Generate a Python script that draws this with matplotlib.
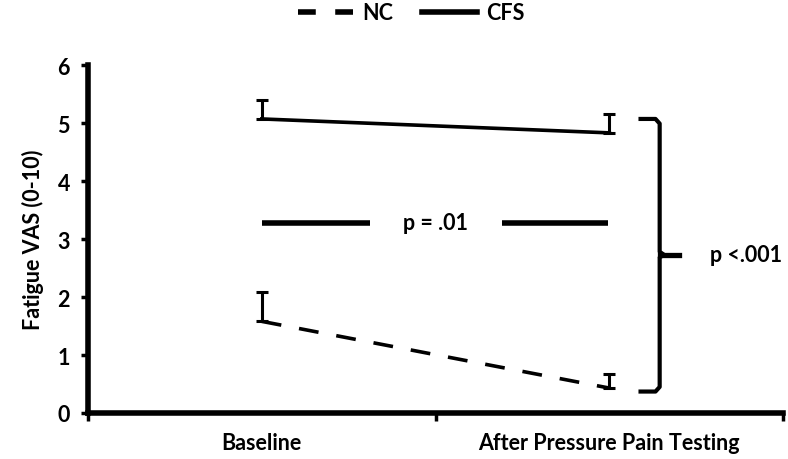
import matplotlib
matplotlib.use("Agg")
import matplotlib.pyplot as plt
from matplotlib.lines import Line2D
import numpy as np

categories = ["Baseline", "After Pressure Pain Testing"]
nc_mean = [1.58, 0.43]
nc_err_up = [0.50, 0.25]
cfs_mean = [5.07, 4.83]
cfs_err_up = [0.33, 0.32]
yticks = [0, 1, 2, 3, 4, 5, 6]

plt.rcParams['font.family'] = ['Lato', 'DejaVu Sans']
plt.rcParams['font.weight'] = 'bold'
FS = 15.5

fig = plt.figure(figsize=(7.88, 4.6), dpi=100)
ax = fig.add_axes([0.1117, 0.1, 0.882, 0.7565])

x = np.arange(len(categories))
lw = 2.6
ax.plot(x, nc_mean, color='black', lw=lw, linestyle=(0, (5.5, 5)), label='NC',
        solid_capstyle='butt')
ax.plot(x, cfs_mean, color='black', lw=lw, label='CFS')
for m, e in ((nc_mean, nc_err_up), (cfs_mean, cfs_err_up)):
    ax.errorbar(x, m, yerr=[np.zeros(len(e)), e], fmt='none', ecolor='black',
                elinewidth=2.2, capsize=4, capthick=2.2)

# p = .01 annotation
py = 3.28
ax.plot([0, 0.31], [py, py], color='black', lw=4, solid_capstyle='butt')
ax.plot([0.69, 0.995], [py, py], color='black', lw=4, solid_capstyle='butt')
ax.text(0.5, py, "p = .01", ha='center', va='center', fontsize=FS, fontweight='bold')

# brace
bx0, bx1, ytop, ybot, ymid = 1.09, 1.145, 5.07, 0.37, 2.73
ax.plot([bx0, bx1 - 0.012, bx1, bx1, bx1 + 0.012, bx1, bx1, bx1 - 0.012, bx0],
        [ytop, ytop, ytop - 0.08, ymid + 0.05, ymid, ymid - 0.05, ybot + 0.08, ybot, ybot],
        color='black', lw=3.0, solid_joinstyle='round', clip_on=False)
ax.plot([bx1, bx1 + 0.055], [ymid, ymid], color='black', lw=3.8, clip_on=False)
ax.text(1.29, ymid, "p <.001", ha='left', va='center', fontsize=FS, fontweight='bold')

ax.set_xlim(-0.5, 1.5)
ax.set_ylim(0, 6)
ax.set_yticks(yticks)
ax.set_yticklabels([str(t) for t in yticks], fontsize=FS, fontweight='bold')
ax.set_xticks([-0.5, 0.5, 1.5])
ax.set_xticklabels([])
ax.set_xticks(x, minor=True)
ax.set_xticklabels(categories, minor=True, fontsize=FS, fontweight='bold')
ax.tick_params(axis='x', which='minor', length=0, pad=14)
ax.tick_params(axis='x', which='major', length=6, width=2.5, direction='out')
ax.tick_params(axis='y', length=5, width=2.5, direction='out', pad=8)
for s in ('top', 'right'):
    ax.spines[s].set_visible(False)
for s in ('left', 'bottom'):
    ax.spines[s].set_linewidth(4)
ax.set_ylabel("Fatigue VAS (0-10)", fontsize=FS, fontweight='bold', labelpad=10)

handles = [Line2D([], [], color='black', lw=4, linestyle=(0, (3.2, 3.5))),
           Line2D([], [], color='black', lw=4)]
ax.legend(handles, ['NC', 'CFS'], loc='center', bbox_to_anchor=(0.465, 1.15), ncol=2,
          frameon=False, handlelength=2.6, handletextpad=0.4, columnspacing=1.3,
          prop={'weight': 'bold', 'size': FS})

fig.savefig("out.png", dpi=100)
